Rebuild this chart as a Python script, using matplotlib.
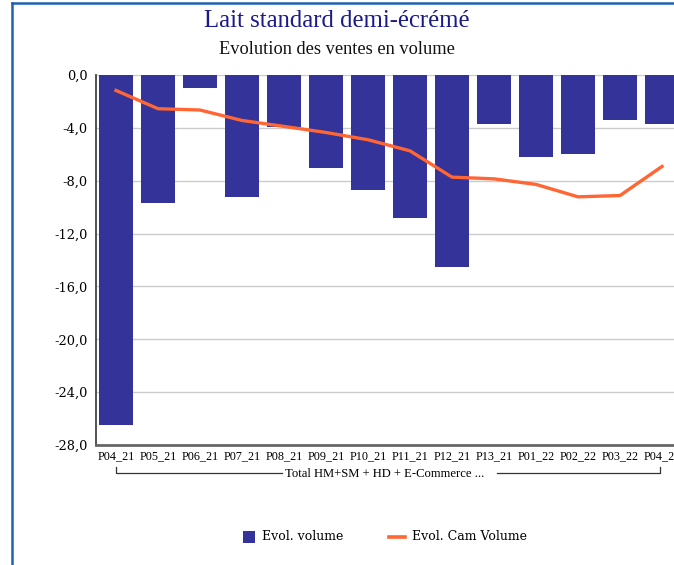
import matplotlib
matplotlib.use("Agg")
import matplotlib.pyplot as plt
from matplotlib.lines import Line2D
from matplotlib.patches import Rectangle

periods = ["P04_21", "P05_21", "P06_21", "P07_21", "P08_21", "P09_21", "P10_21",
           "P11_21", "P12_21", "P13_21", "P01_22", "P02_22", "P03_22", "P04_22"]
evol_volume = [-26.5, -9.65, -0.95, -9.27, -3.97, -7.07, -8.67,
               -10.79, -14.5, -3.72, -6.24, -6.01, -3.44, -3.74]
evol_cam_volume = [-1.17, -2.55, -2.65, -3.44, -3.89, -4.35, -4.9,
                   -5.74, -7.73, -7.86, -8.28, -9.22, -9.12, -6.92]
yticks = [0, -4, -8, -12, -16, -20, -24, -28]
group_label = "Total HM+SM + HD + E-Commerce ..."

BAR_COLOR = "#333399"
LINE_COLOR = "#ff6633"

W, H = 674, 565
fig = plt.figure(figsize=(W / 100, H / 100), dpi=100)


def fx(px):
    return px / W


def fy(py):
    return 1 - py / H


# outer frame (left and top edges)
fig.add_artist(Line2D([fx(11.5), fx(11.5)], [0, fy(3)], color="#1f62b0", lw=1.8))
fig.add_artist(Line2D([fx(11.5), 1], [fy(3), fy(3)], color="#1f62b0", lw=1.8))

ax = fig.add_axes([fx(96), fy(445), fx(682 - 96), (445 - 75) / H])
x = list(range(len(periods)))
ax.bar(x, evol_volume, width=0.81, color=BAR_COLOR, zorder=2)
ax.plot(x, evol_cam_volume, color=LINE_COLOR, lw=2.4, zorder=3)

ax.set_xlim(-0.476, len(periods) - 1 + 0.476)
ax.set_ylim(-28, 0)
ax.set_yticks(yticks)
ax.set_yticklabels([f"{v:.1f}".replace(".", ",") for v in yticks],
                   fontfamily="DejaVu Serif", fontsize=9.3)
ax.set_xticks(x)
ax.set_xticklabels(periods, fontfamily="Liberation Serif", fontsize=8.7)
ax.tick_params(axis="x", length=0, pad=4)
ax.tick_params(axis="y", length=0, pad=6)
ax.grid(axis="y", color="#cccccc", lw=1.0, zorder=0)
for s in ("top", "right"):
    ax.spines[s].set_visible(False)
ax.spines["left"].set_color("#444444")
ax.spines["left"].set_linewidth(1.3)
ax.spines["bottom"].set_color("#666666")
ax.spines["bottom"].set_linewidth(2.0)

# category group bracket under the period labels
yb, yt = fy(473), fy(467)
fig.add_artist(Line2D([fx(116), fx(116), fx(282)], [yt, yb, yb], color="#333333", lw=0.9))
fig.add_artist(Line2D([fx(497), fx(660), fx(660)], [yb, yb, yt], color="#333333", lw=0.9))
fig.text(fx(385), fy(474), group_label, ha="center", va="center",
         fontfamily="Liberation Serif", fontsize=9.1)

fig.text(0.5, fy(21), "Lait standard demi-écrémé", ha="center", va="center",
         fontfamily="Liberation Serif", fontsize=17.8, color="#1a1a8c")
fig.text(0.5, fy(49), "Evolution des ventes en volume", ha="center", va="center",
         fontfamily="Liberation Serif", fontsize=13.2, color="#111111")

# legend
fig.add_artist(Rectangle((fx(243), fy(543)), fx(12), 12 / H, facecolor=BAR_COLOR,
                         edgecolor="none", transform=fig.transFigure))
fig.text(fx(262), fy(537), "Evol. volume", ha="left", va="center",
         fontfamily="DejaVu Serif", fontsize=9)
fig.add_artist(Line2D([fx(389), fx(405)], [fy(537), fy(537)], color=LINE_COLOR, lw=2.6))
fig.text(fx(412), fy(537), "Evol. Cam Volume", ha="left", va="center",
         fontfamily="DejaVu Serif", fontsize=9)

fig.savefig("out.png", dpi=100)
